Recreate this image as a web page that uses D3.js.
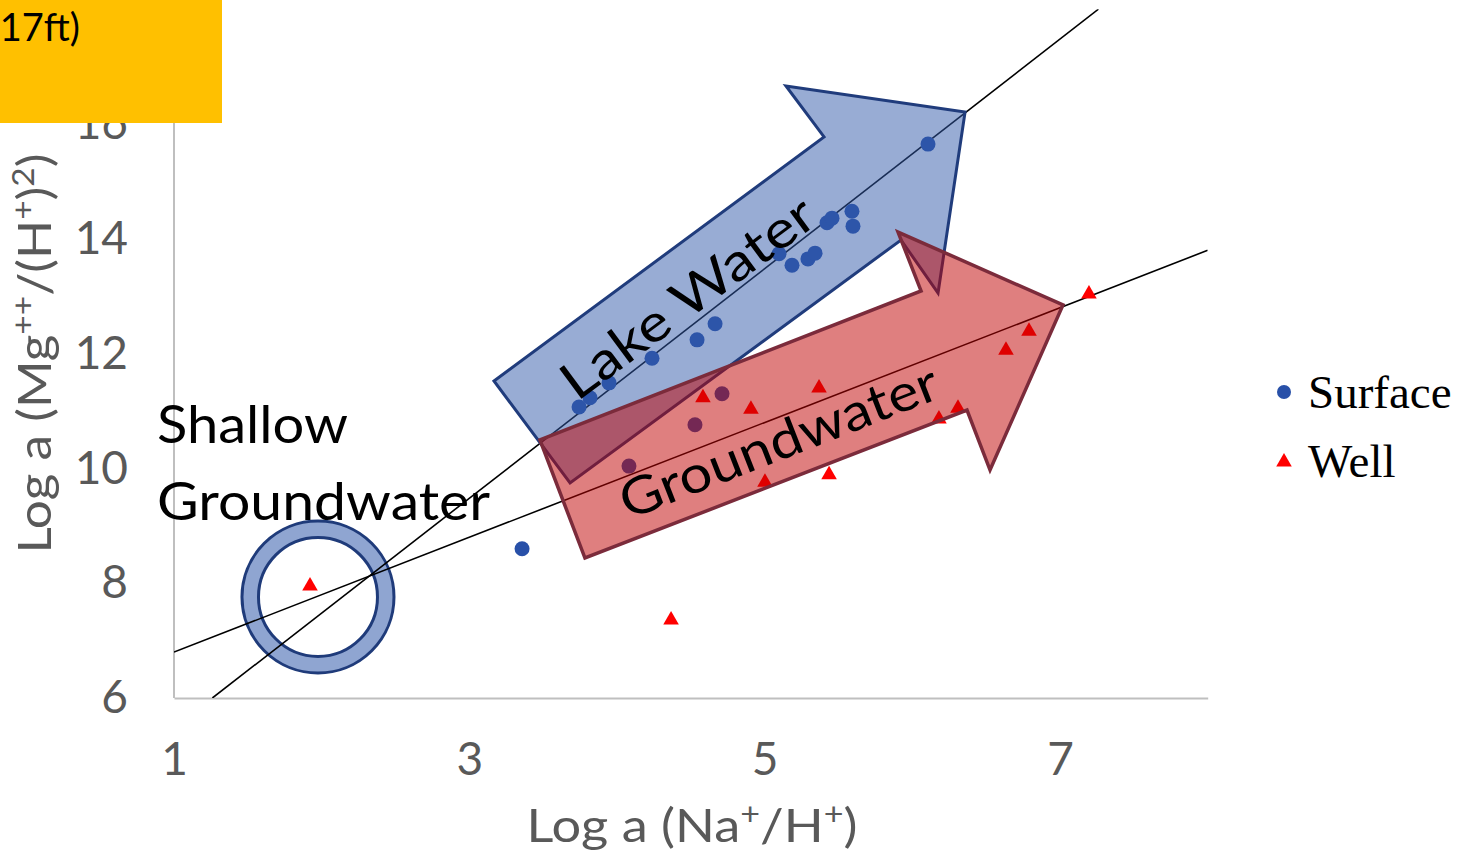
<!DOCTYPE html>
<html>
<head>
<meta charset="utf-8">
<script src="https://cdn.jsdelivr.net/npm/d3@7"></script>
<style>
  html, body { margin: 0; padding: 0; background: #ffffff; }
  svg { display: block; }
</style>
</head>
<body>
<script>
// ---------------- DATA ----------------
const xTicks = [1, 3, 5, 7];
const yTicks = [6, 8, 10, 12, 14, 16];

const surfaceX = [3.743, 3.817, 3.946, 4.237, 4.542, 4.664, 5.097, 5.185, 5.293, 5.341, 5.422, 5.456, 5.591, 5.598, 6.106, 3.357, 4.081, 4.528, 4.711];
const surfaceY = [11.07, 11.23, 11.49, 11.92, 12.24, 12.52, 13.74, 13.54, 13.65, 13.75, 14.28, 14.36, 14.48, 14.22, 15.65, 8.60, 10.04, 10.76, 11.30];

const wellX = [1.921, 4.366, 4.582, 4.907, 5.002, 5.368, 5.436, 6.180, 6.309, 6.634, 6.790, 7.196];
const wellY = [7.95, 7.36, 11.23, 11.03, 9.76, 11.40, 9.89, 10.86, 11.05, 12.06, 12.39, 13.04];

// linear trendlines: [surface, well]
const trendSlopes = [2.0, 1.0];
const trendIntercepts = [3.48, 5.8];

// annotation arrows (data coordinates)
const lakeArrow = [[3.167, 11.523], [5.402, 15.774], [5.144, 16.662], [6.357, 16.209], [6.174, 13.056], [5.923, 13.979], [3.682, 9.746]];
const groundArrow = [[3.478, 10.495], [6.059, 13.091], [5.903, 14.118], [7.020, 12.847], [6.526, 9.972], [6.370, 11.017], [3.783, 8.439]];
const ringCenter = [1.975, 7.76];

const seriesNames = ["Surface", "Well"];

// ---------------- LAYOUT ----------------
const W = 1464, H = 851;
const plotLeft = 174, plotBottom = 698;
const xPerUnit = 147.67, yPerUnit = 57.4;
const font = "'Lato', 'Open Sans', sans-serif";
const gray = "#595959";

const x = d3.scaleLinear().domain([1, 8]).range([plotLeft, plotLeft + 7 * xPerUnit]);
const y = d3.scaleLinear().domain([6, 18]).range([plotBottom, plotBottom - 12 * yPerUnit]);

const svg = d3.select("body").append("svg").attr("width", W).attr("height", H);

svg.append("defs").append("clipPath").attr("id", "plotclip")
  .append("rect").attr("x", x(1)).attr("y", y(18)).attr("width", x(8) - x(1)).attr("height", y(6) - y(18));

// axes
const yAxis = svg.append("g").attr("transform", `translate(${x(1)},0)`)
  .call(d3.axisLeft(y).tickValues(yTicks).tickSize(0).tickPadding(46).tickFormat(d3.format("d")));
const xAxis = svg.append("g").attr("transform", `translate(0,${y(6)})`)
  .call(d3.axisBottom(x).tickValues(xTicks).tickSize(0).tickPadding(44).tickFormat(d3.format("d")));
yAxis.select(".domain").attr("d", `M0,${y(6)}V${y(18)}`);
[xAxis, yAxis].forEach(g => {
  g.select(".domain").attr("stroke", "#BFBFBF").attr("stroke-width", 2);
  g.selectAll("text").attr("font-family", font).attr("font-size", 46).attr("fill", gray);
});

// trendlines
function drawTrends(g) {
  trendSlopes.forEach((m, i) => {
    const b = trendIntercepts[i];
    const x0 = Math.max(1, (6 - b) / m), x1 = Math.min(8, (18 - b) / m);
    g.append("line")
      .attr("x1", x(x0)).attr("y1", y(m * x0 + b))
      .attr("x2", x(x1)).attr("y2", y(m * x1 + b))
      .attr("stroke", "#000").attr("stroke-width", 1.6);
  });
}

// ring (shallow groundwater)
svg.append("path")
  .attr("transform", `translate(${x(ringCenter[0])},${y(ringCenter[1])})`)
  .attr("d", d3.arc().innerRadius(59.5).outerRadius(76).startAngle(0).endAngle(2 * Math.PI)())
  .attr("fill", "#8FA5D1").attr("stroke", "#1F3B7A").attr("stroke-width", 3);

drawTrends(svg.append("g").attr("clip-path", "url(#plotclip)"));

// points
const surface = surfaceX.map((v, i) => [v, surfaceY[i]]);
const well = wellX.map((v, i) => [v, wellY[i]]);
svg.append("g").selectAll("circle").data(surface).join("circle")
  .attr("cx", d => x(d[0])).attr("cy", d => y(d[1])).attr("r", 7.5)
  .attr("fill", "#2850A8");
const tri = d3.symbol(d3.symbolTriangle).size(105);
svg.append("g").selectAll("path").data(well).join("path")
  .attr("transform", d => `translate(${x(d[0])},${y(d[1])})`)
  .attr("d", tri).attr("fill", "#FF0000");

// arrows
const poly = pts => "M" + pts.map(p => `${x(p[0])},${y(p[1])}`).join("L") + "Z";
svg.append("path").attr("d", poly(lakeArrow))
  .attr("fill", "rgba(49,89,169,0.5)").attr("stroke", "#203C7C").attr("stroke-width", 3)
  .attr("stroke-linejoin", "miter");
svg.append("path").attr("d", poly(groundArrow))
  .attr("fill", "rgba(192,0,0,0.5)").attr("stroke", "#7B2B3B").attr("stroke-width", 3.5)
  .attr("stroke-linejoin", "miter");

// arrow labels
function angleOf(pts) {
  const a = pts[0], b = pts[1];
  return Math.atan2(y(b[1]) - y(a[1]), x(b[0]) - x(a[0])) * 180 / Math.PI;
}
svg.append("text")
  .attr("transform", `translate(${x(3.729)},${y(11.157)}) rotate(${angleOf(lakeArrow)})`)
  .attr("font-family", font).attr("font-size", 52).attr("fill", "#000")
  .attr("textLength", 302).attr("lengthAdjust", "spacingAndGlyphs")
  .text("Lake Water");
svg.append("text")
  .attr("transform", `translate(${x(4.074)},${y(9.10)}) rotate(${angleOf(groundArrow)})`)
  .attr("font-family", font).attr("font-size", 52).attr("fill", "#000")
  .attr("textLength", 338).attr("lengthAdjust", "spacingAndGlyphs")
  .text("Groundwater");

// shallow groundwater label
const shallow = svg.append("text").attr("font-family", font).attr("font-size", 52).attr("fill", "#000");
shallow.append("tspan").attr("x", 157).attr("y", 443)
  .attr("textLength", 191).attr("lengthAdjust", "spacingAndGlyphs").text("Shallow");
shallow.append("tspan").attr("x", 157).attr("y", 520)
  .attr("textLength", 333).attr("lengthAdjust", "spacingAndGlyphs").text("Groundwater");

// axis titles
const xt = svg.append("text").attr("x", 692).attr("y", 842).attr("text-anchor", "middle")
  .attr("font-family", font).attr("font-size", 46).attr("fill", gray)
  .attr("textLength", 331).attr("lengthAdjust", "spacingAndGlyphs");
xt.append("tspan").text("Log a (Na");
xt.append("tspan").attr("dy", -17).attr("font-size", 30).text("+");
xt.append("tspan").attr("dy", 17).text("/H");
xt.append("tspan").attr("dy", -17).attr("font-size", 30).text("+");
xt.append("tspan").attr("dy", 17).text(")");

const yt = svg.append("text").attr("transform", `translate(51,${(y(6) + y(18)) / 2}) rotate(-90)`)
  .attr("text-anchor", "middle")
  .attr("font-family", font).attr("font-size", 46).attr("fill", gray)
  .attr("textLength", 400).attr("lengthAdjust", "spacingAndGlyphs");
yt.append("tspan").text("Log a (Mg");
yt.append("tspan").attr("dy", -17).attr("font-size", 30).text("++");
yt.append("tspan").attr("dy", 17).text("/(H");
yt.append("tspan").attr("dy", -17).attr("font-size", 30).text("+");
yt.append("tspan").attr("dy", 17).text(")");
yt.append("tspan").attr("dy", -17).attr("font-size", 30).text("2");
yt.append("tspan").attr("dy", 17).text(")");

// yellow title box (cropped at the page edge, as in the reference)
svg.append("rect").attr("x", 0).attr("y", 0).attr("width", 222).attr("height", 123).attr("fill", "#FFC000");
svg.append("text").attr("x", 80).attr("y", 41).attr("text-anchor", "end")
  .attr("font-family", font).attr("font-size", 38).attr("fill", "#000").text("Well (117ft)");

// legend
const leg = svg.append("g");
leg.append("circle").attr("cx", 1284).attr("cy", 392).attr("r", 7).attr("fill", "#2850A8");
leg.append("path").attr("transform", "translate(1284,462)").attr("d", tri).attr("fill", "#FF0000");
leg.selectAll("text").data(seriesNames).join("text")
  .attr("x", 1308).attr("y", (d, i) => 408 + i * 69)
  .attr("font-family", "'Liberation Serif', 'Times New Roman', serif").attr("font-size", 47).attr("fill", "#000")
  .text(d => d);
</script>
</body>
</html>
